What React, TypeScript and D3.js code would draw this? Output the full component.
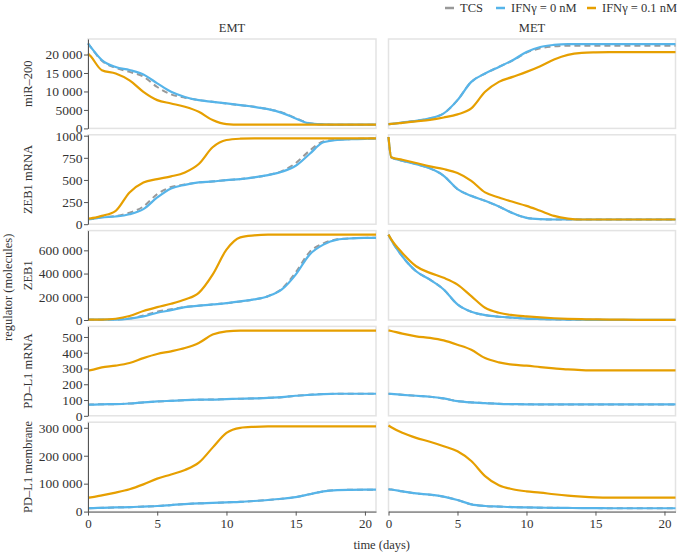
import { useEffect, useRef } from 'react';
import * as d3 from 'd3';

const WIDTH = 677;
const HEIGHT = 552;

// time points (days) shared by every series
const T = [0, 0.2, 1, 2, 3, 4, 5, 6, 7, 8, 9, 10, 11, 12, 13, 14, 15, 16, 17, 18, 19, 20, 20.8];

// miR-200
const emtMirTcs = [23000, 22000, 18300, 16400, 15300, 14000, 11200, 9200, 8300, 7650, 7200, 6750, 6300, 5850, 5200, 4300, 2800, 1400, 1050, 1000, 1000, 1000, 1000];
const emtMirIfn0 = [23000, 22000, 18500, 16600, 15800, 14600, 12200, 9900, 8500, 7650, 7200, 6750, 6300, 5850, 5200, 4200, 2700, 1350, 1100, 1000, 1000, 1000, 1000];
const emtMirIfn01 = [20300, 19500, 15750, 14850, 13000, 9900, 7650, 6750, 5850, 4500, 2250, 1150, 1000, 1000, 1000, 1000, 1000, 1000, 1000, 1000, 1000, 1000, 1000];
const metMirTcs = [1150, 1200, 1600, 2050, 2700, 4050, 7650, 12600, 14850, 16650, 18400, 20500, 21700, 22200, 22400, 22400, 22400, 22400, 22400, 22400, 22400, 22400, 22400];
const metMirIfn0 = [1150, 1200, 1600, 2050, 2700, 4050, 7650, 12600, 14850, 16650, 18450, 20700, 22050, 22600, 22800, 22800, 22800, 22800, 22800, 22800, 22800, 22800, 22800];
const metMirIfn01 = [1150, 1200, 1500, 1900, 2300, 2950, 3800, 5400, 9900, 12600, 13950, 15300, 16850, 18650, 19900, 20450, 20600, 20650, 20650, 20650, 20650, 20650, 20650];

// ZEB1 mRNA
const emtZmTcs = [57, 58, 78, 92, 130, 200, 340, 420, 448, 472, 483, 498, 510, 529, 555, 600, 690, 830, 935, 955, 962, 966, 968];
const emtZmIfn0 = [57, 58, 76, 87, 113, 170, 302, 404, 445, 472, 483, 498, 510, 529, 555, 592, 660, 793, 925, 951, 960, 965, 967];
const emtZmIfn01 = [64, 66, 94, 151, 359, 472, 510, 540, 585, 680, 869, 951, 966, 970, 970, 970, 970, 970, 970, 970, 970, 970, 970];
const metZmTcs = [985, 755, 717, 679, 631, 547, 396, 320, 264, 200, 125, 72, 57, 53, 53, 53, 53, 53, 53, 53, 53, 53, 53];
const metZmIfn0 = [985, 755, 717, 679, 631, 547, 396, 320, 264, 200, 125, 72, 57, 53, 53, 53, 53, 53, 53, 53, 53, 53, 53];
const metZmIfn01 = [985, 757, 728, 691, 653, 623, 578, 490, 359, 302, 253, 207, 151, 94, 64, 53, 53, 53, 53, 53, 53, 53, 53];

// ZEB1
const emtZTcs = [3000, 3000, 3000, 4000, 14000, 38000, 72000, 92000, 113000, 123000, 134000, 145000, 160000, 177000, 205000, 270000, 410000, 585000, 660000, 695000, 704000, 707000, 708000];
const emtZIfn0 = [3000, 3000, 3000, 3000, 11000, 31000, 62000, 85000, 111000, 123000, 134000, 145000, 160000, 177000, 205000, 263000, 391000, 563000, 649000, 692000, 703000, 707000, 708000];
const emtZIfn01 = [3000, 3000, 4000, 11000, 34000, 77000, 111000, 140000, 177000, 234000, 391000, 606000, 712000, 729000, 735000, 735000, 735000, 735000, 735000, 735000, 735000, 735000, 735000];
const metZTcs = [735000, 690000, 549000, 420000, 348000, 263000, 134000, 71000, 42000, 28000, 20000, 12000, 8000, 5000, 3000, 2000, 1500, 1000, 1000, 1000, 1000, 1000, 1000];
const metZIfn0 = [735000, 690000, 549000, 420000, 348000, 263000, 134000, 71000, 42000, 28000, 20000, 12000, 8000, 5000, 3000, 2000, 1500, 1000, 1000, 1000, 1000, 1000, 1000];
const metZIfn01 = [735000, 695000, 578000, 463000, 406000, 363000, 305000, 205000, 105000, 62000, 42000, 31000, 22000, 15000, 10000, 7000, 5000, 3500, 2500, 1800, 1200, 1000, 1000];

// PD-L1 mRNA
const emtPmTcs = [70, 71, 73, 74, 78, 85, 91, 95, 99, 102, 103, 106, 108, 110, 114, 118, 127, 133, 138, 140, 140, 140, 140];
const emtPmIfn0 = [70, 71, 73, 74, 78, 85, 91, 95, 99, 102, 103, 106, 108, 110, 114, 118, 127, 133, 138, 140, 140, 140, 140];
const emtPmIfn01 = [288, 290, 307, 318, 335, 366, 392, 409, 430, 462, 515, 536, 540, 540, 540, 540, 540, 540, 540, 540, 540, 540, 540];
const metPmTcs = [140, 139, 133, 127, 121, 110, 93, 85, 81, 76, 74, 73, 72, 72, 72, 72, 72, 72, 72, 72, 72, 72, 72];
const metPmIfn0 = [140, 139, 133, 127, 121, 110, 93, 85, 81, 76, 74, 73, 72, 72, 72, 72, 72, 72, 72, 72, 72, 72, 72];
const metPmIfn01 = [542, 538, 521, 504, 494, 478, 451, 419, 366, 339, 324, 318, 309, 301, 294, 290, 288, 288, 288, 288, 288, 288, 288];

// PD-L1 membrane
const emtPTcs = [12000, 12200, 13500, 15000, 16000, 18000, 20000, 23500, 27000, 29500, 31000, 33000, 35000, 38000, 41500, 46000, 52000, 62000, 72500, 77000, 78000, 78500, 78500];
const emtPIfn0 = [12000, 12200, 13500, 15000, 16000, 18000, 20000, 23500, 27000, 29500, 31000, 33000, 35000, 38000, 41500, 46000, 52000, 62000, 72500, 77000, 78000, 78500, 78500];
const emtPIfn01 = [50000, 51000, 58000, 68000, 80000, 97500, 118000, 133000, 149000, 175000, 229000, 282000, 300000, 303500, 305000, 305000, 305000, 305000, 305000, 305000, 305000, 305000, 305000];
const metPTcs = [80000, 79000, 72500, 65000, 60500, 53500, 41500, 26000, 20000, 18000, 16000, 15000, 14000, 13500, 13000, 12500, 12500, 12000, 12000, 12000, 12000, 12000, 12000];
const metPIfn0 = [80000, 79000, 72500, 65000, 60500, 53500, 41500, 26000, 20000, 18000, 16000, 15000, 14000, 13500, 13000, 12500, 12500, 12000, 12000, 12000, 12000, 12000, 12000];
const metPIfn01 = [308000, 302000, 282000, 264000, 250000, 234000, 216000, 181000, 127000, 94000, 80000, 72500, 68000, 62000, 57000, 53500, 51000, 50000, 50000, 50000, 50000, 50000, 50000];

const rowLabels = ['miR–200', 'ZEB1 mRNA', 'ZEB1', 'PD–L1 mRNA', 'PD–L1 membrane'];
const rowMax = [24200, 1010, 770000, 567, 320000];
const rowTicks = [
  [0, 5000, 10000, 15000, 20000],
  [0, 250, 500, 750, 1000],
  [0, 200000, 400000, 600000],
  [0, 100, 200, 300, 400, 500],
  [0, 100000, 200000, 300000],
];
const columnTitles = ['EMT', 'MET'];
const xTicks = [0, 5, 10, 15, 20];
const xMax = 20.8;

const seriesNames = ['TCS', 'IFNγ = 0 nM', 'IFNγ = 0.1 nM'];
const COLORS = ['#999999', '#56B4E9', '#E69F00'];

// [row][column] -> [tcs, ifn0, ifn0.1]
const PANELS = [
  [[emtMirTcs, emtMirIfn0, emtMirIfn01], [metMirTcs, metMirIfn0, metMirIfn01]],
  [[emtZmTcs, emtZmIfn0, emtZmIfn01], [metZmTcs, metZmIfn0, metZmIfn01]],
  [[emtZTcs, emtZIfn0, emtZIfn01], [metZTcs, metZIfn0, metZIfn01]],
  [[emtPmTcs, emtPmIfn0, emtPmIfn01], [metPmTcs, metPmIfn0, metPmIfn01]],
  [[emtPTcs, emtPIfn0, emtPIfn01], [metPTcs, metPIfn0, metPIfn01]],
];

const FONT = "Liberation Serif, DejaVu Serif, serif";
const COLS = [
  { x0: 88, x1: 376 },
  { x0: 388.5, x1: 675.5 },
];
const ROW_TOP = 39;
const ROW_H = 89.4;
const ROW_STEP = 95.8;

function fmt(v: number): string {
  if (v >= 10000) return d3.format(',')(v).replace(/,/g, '\u00a0');
  return String(v);
}

export default function App() {
  const svgRef = useRef<SVGSVGElement>(null);

  useEffect(() => {
    if (!svgRef.current) return;
    const svg = d3.select(svgRef.current);
    svg.selectAll('*').remove();
    svg.attr('font-family', FONT);

    PANELS.forEach((row, r) => {
      const top = ROW_TOP + r * ROW_STEP;
      const bottom = top + ROW_H;
      const y = d3.scaleLinear().domain([0, rowMax[r]]).range([bottom, top]);

      row.forEach((series, c) => {
        const { x0, x1 } = COLS[c];
        const x = d3.scaleLinear().domain([0, xMax]).range([x0, x1]);

        svg.append('rect')
          .attr('x', x0)
          .attr('y', top)
          .attr('width', x1 - x0)
          .attr('height', bottom - top)
          .attr('fill', 'none')
          .attr('stroke', '#e3e3e3')
          .attr('stroke-width', 1.5);

        const line = d3
          .line<number>()
          .x((_, i) => x(T[i]))
          .y((d) => y(d))
          .curve(d3.curveMonotoneX);

        series.forEach((vals, s) => {
          svg.append('path')
            .datum(vals)
            .attr('fill', 'none')
            .attr('stroke', COLORS[s])
            .attr('stroke-width', s === 0 ? 2 : 2.2)
            .attr('stroke-dasharray', s === 0 ? '6,4' : null)
            .attr('stroke-linejoin', 'round')
            .attr('d', line);
        });

        if (c === 0) {
          const ax = svg.append('g')
            .attr('transform', `translate(${x0},0)`)
            .call(d3.axisLeft(y).tickValues(rowTicks[r]).tickFormat((v) => fmt(Number(v))).tickSize(4).tickSizeOuter(0).tickPadding(1.5));
          ax.attr('font-family', FONT).attr('font-size', 13.5);
          ax.selectAll('text').attr('fill', '#333');
          ax.selectAll('.domain, .tick line').attr('stroke', '#555');
        }

        if (r === PANELS.length - 1) {
          const bx = svg.append('g')
            .attr('transform', `translate(0,${bottom})`)
            .call(d3.axisBottom(x).tickValues(xTicks).tickSize(4).tickSizeOuter(0).tickPadding(3));
          bx.attr('font-family', FONT).attr('font-size', 13);
          bx.selectAll('text').attr('fill', '#333');
          bx.selectAll('.domain, .tick line').attr('stroke', '#555');
        }
      });

      svg.append('text')
        .attr('transform', `translate(32,${(top + bottom) / 2}) rotate(-90)`)
        .attr('text-anchor', 'middle')
        .attr('fill', '#333')
        .attr('font-size', 12.5)
        .text(rowLabels[r]);
    });

    const lastBottom = ROW_TOP + 4 * ROW_STEP + ROW_H;

    svg.append('text')
      .attr('transform', `translate(12,${(ROW_TOP + lastBottom) / 2 + 12}) rotate(-90)`)
      .attr('text-anchor', 'middle')
      .attr('fill', '#333')
      .attr('font-size', 12.5)
      .text('regulator (molecules)');

    columnTitles.forEach((title, c) => {
      svg.append('text')
        .attr('x', (COLS[c].x0 + COLS[c].x1) / 2)
        .attr('y', 32)
        .attr('text-anchor', 'middle')
        .attr('fill', '#333')
        .attr('font-size', 12.5)
        .text(title);
    });

    svg.append('text')
      .attr('x', (COLS[0].x0 + COLS[1].x1) / 2)
      .attr('y', 549)
      .attr('text-anchor', 'middle')
      .attr('fill', '#333')
      .attr('font-size', 12.5)
      .text('time (days)');

    // legend
    const legendX = [445, 496, 587];
    seriesNames.forEach((name, i) => {
      const g = svg.append('g').attr('transform', `translate(${legendX[i]},8)`);
      g.append('line')
        .attr('x1', 0)
        .attr('x2', 9)
        .attr('y1', 0)
        .attr('y2', 0)
        .attr('stroke', COLORS[i])
        .attr('stroke-width', 2.5);
      g.append('text')
        .attr('x', 15)
        .attr('y', 4)
        .attr('fill', '#333')
        .attr('font-size', 12.5)
        .text(name);
    });
  }, []);

  return (
    <div style={{ position: 'absolute', left: 0, top: 0 }}>
      <svg ref={svgRef} width={WIDTH} height={HEIGHT} style={{ display: 'block', background: '#fff' }} />
    </div>
  );
}
